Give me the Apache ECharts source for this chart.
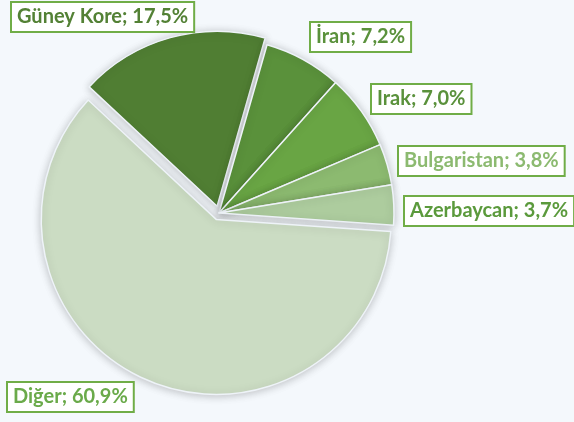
<!DOCTYPE html>
<html lang="tr">
<head>
    <meta charset="UTF-8">
    <title>Ülkeler</title>
    <script src="https://cdn.jsdelivr.net/npm/echarts@6/dist/echarts.min.js"></script>
    <style>
        html, body { margin: 0; padding: 0; background: #f4f8fc; }
        #main { width: 574px; height: 422px; }
    </style>
</head>
<body>
<div id="main"></div>
<script type="text/javascript">
    // veriler
    const countries = ['Güney Kore', 'İran', 'Irak', 'Bulgaristan', 'Azerbaycan', 'Diğer'];
    const shares = [17.5, 7.2, 7.0, 3.8, 3.7, 60.9];
    const exploded = [true, false, false, false, false, true];

    const sliceColors = ['#507e33', '#5a913b', '#69a544', '#8cba70', '#adcc9e', '#cbdcc3'];
    const textColors = ['#538135', '#5a913b', '#5a913b', '#8cba70', '#5b9a3c', '#6aaa4a'];
    // etiket kutularının sol üst köşeleri
    const labelBoxes = [[12, 3], [311, 23], [372, 85], [399, 147], [405, 197], [8, 383]];

    let chart = echarts.init(document.getElementById('main'));
    let data = countries.map(function (name, i) {
        return {
            name: name,
            value: shares[i],
            selected: exploded[i],
            itemStyle: {color: sliceColors[i]}
        };
    });

    // etiketler: pie etiketleri sola hizalanınca kayıyor, o yüzden graphic ile
    let labels = countries.map(function (name, i) {
        return {
            type: 'text',
            x: labelBoxes[i][0],
            y: labelBoxes[i][1],
            z: 10,
            style: {
                text: name + '; ' + shares[i].toFixed(1).replace('.', ',') + '%',
                fill: textColors[i],
                font: 'bold 20px Lato',
                lineHeight: 22,
                align: 'left',
                verticalAlign: 'top',
                backgroundColor: '#ffffff',
                borderColor: '#70ad47',
                borderWidth: 2,
                padding: [3, 5, 3, 5]
            }
        };
    });

    let option = {
        backgroundColor: '#f4f8fc',
        animation: false,
        graphic: labels,
        series: [{
            type: 'pie',
            center: [219, 213],
            radius: [0, 175],
            startAngle: 137,
            clockwise: true,
            selectedMode: 'multiple',
            selectedOffset: 7,
            itemStyle: {
                borderColor: '#eef3f8',
                borderWidth: 1.5,
                shadowBlur: 8,
                shadowColor: 'rgba(0,0,0,0.22)',
                shadowOffsetY: 1
            },
            select: {itemStyle: {borderColor: '#eef3f8', borderWidth: 1.5}},
            emphasis: {disabled: true},
            label: {show: false},
            labelLine: {show: false},
            data: data
        }]
    };
    chart.setOption(option);
</script>
</body>
</html>
